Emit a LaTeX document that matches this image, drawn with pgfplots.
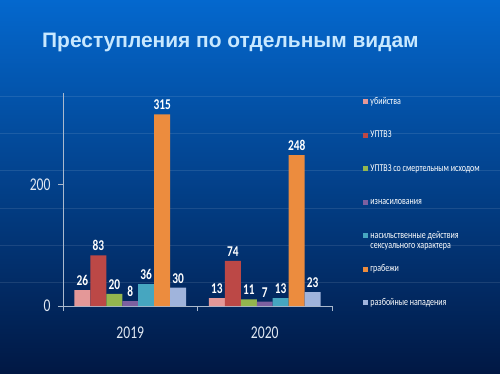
\documentclass[border=0pt]{standalone}
\usepackage{pgfplots}
\pgfplotsset{compat=1.18}
\usepackage{fontspec}
\setmainfont{Carlito}
\newfontfamily\cf{Carlito}[FakeStretch=0.76]
\newfontfamily\tf{Liberation Sans}
\definecolor{bgtop}{RGB}{4,104,206}
\definecolor{bgmid}{RGB}{2,66,155}
\definecolor{bgbot}{RGB}{1,24,68}
\definecolor{titlec}{RGB}{200,232,255}
\definecolor{axisc}{RGB}{170,185,205}
\definecolor{tickc}{RGB}{225,232,242}
\definecolor{c1}{RGB}{228,152,152}
\definecolor{c2}{RGB}{188,72,70}
\definecolor{c3}{RGB}{148,182,78}
\definecolor{c4}{RGB}{125,96,160}
\definecolor{c5}{RGB}{70,166,192}
\definecolor{c6}{RGB}{236,140,62}
\definecolor{c7}{RGB}{160,180,220}
\pgfplotsset{sq/.style={legend image code/.code={\fill[##1,draw=none] (0bp,-2.6bp) rectangle (5bp,2.6bp);}}}
\begin{document}
\begin{tikzpicture}[x=1bp,y=1bp]
\shade[top color=bgtop, middle color=bgmid, bottom color=bgbot] (0,0) rectangle (500,373);
\foreach \yy in {96,133,170,208,245,282}{\draw[white,opacity=0.10,line width=0.7bp] (0,373-\yy) -- (500,373-\yy);}
\node[anchor=base west, text=titlec, font=\tf\bfseries\fontsize{21}{24}\selectfont, inner sep=0pt] at (42,373-47) {Преступления по отдельным видам};
\begin{axis}[
  at={(63bp,67bp)}, anchor=south west, scale only axis,
  width=269bp, height=213bp,
  xmin=-0.5, xmax=1.5, ymin=0, ymax=350,
  ybar=0pt, bar width=0.1186,
  axis x line*=bottom, axis y line*=left,
  axis line style={color=axisc, line width=0.6bp},
  xtick={0,1}, xticklabels={2019,2020},
  x tick style={draw=none},
  extra x ticks={-0.5,0.5,1.5}, extra x tick labels={},
  extra x tick style={x tick style={draw=axisc, line width=0.6bp}, major tick length=5bp, tick align=outside},
  ytick={0,200}, y tick style={draw=axisc, line width=0.6bp}, major tick length=5bp, tick align=outside,
  tick label style={font=\cf\fontsize{18}{20}\selectfont, text=tickc},
  /pgf/number format/assume math mode=true,
  xticklabel style={yshift=-12bp},
  yticklabel style={xshift=-4bp},
  nodes near coords,
  every node near coord/.append style={font=\cf\bfseries\fontsize{15}{16}\selectfont, text=white, yshift=1bp},
  legend style={at={(1.105,1.0)}, anchor=north west, draw=none, fill=none,
    font=\cf\fontsize{10.5}{11}\selectfont, text=white, row sep=20.5bp,
    nodes={text height=7bp, text depth=2bp, inner sep=2bp},
    cells={anchor=west}},
  legend cell align=left,
]
\addplot[fill=c1, draw=none, sq] coordinates {(0,26) (1,13)};
\addplot[fill=c2, draw=none, sq] coordinates {(0,83) (1,74)};
\addplot[fill=c3, draw=none, sq] coordinates {(0,20) (1,11)};
\addplot[fill=c4, draw=none, sq] coordinates {(0,8) (1,7)};
\addplot[fill=c5, draw=none, sq] coordinates {(0,36) (1,13)};
\addplot[fill=c6, draw=none, sq] coordinates {(0,315) (1,248)};
\addplot[fill=c7, draw=none, sq] coordinates {(0,30) (1,23)};
\legend{убийства, УПТВЗ, УПТВЗ со смертельным исходом, изнасилования,
  {\strut\smash{\begin{tabular}[t]{@{}l@{}}насильственные  действия\\[-1bp] сексуального характера\end{tabular}}},
  грабежи, разбойные нападения}
\end{axis}
\pgfresetboundingbox
\path (0,0) rectangle (500,373);
\end{tikzpicture}
\end{document}
